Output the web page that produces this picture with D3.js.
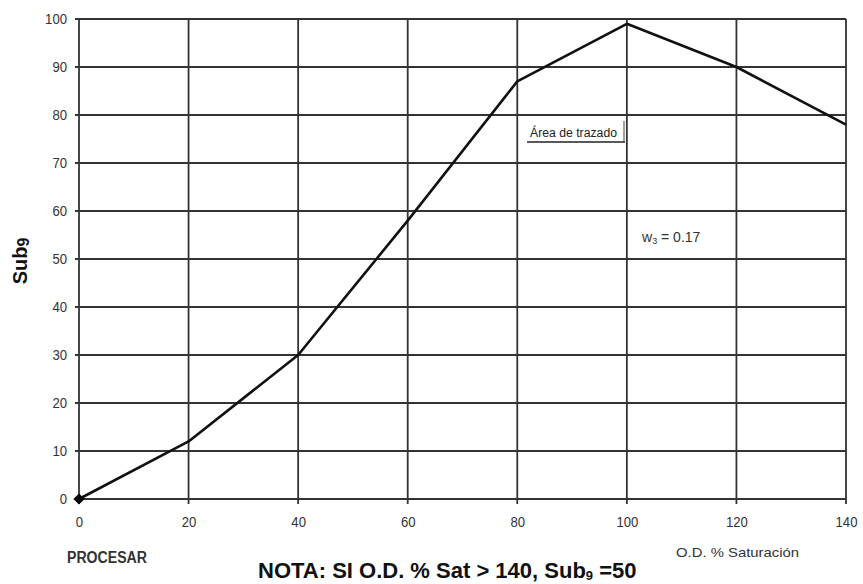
<!DOCTYPE html>
<html><head><meta charset="utf-8">
<script src="https://cdn.jsdelivr.net/npm/d3@7"></script>
<style>body{margin:0;background:#fff}</style>
</head><body><svg id="c" width="863" height="584"></svg>
<script>
const xValues = [0, 20, 40, 60, 80, 100, 120, 140];
const subValues = [0, 12, 30, 58, 87, 99, 90, 78];
const xTicks = [0, 20, 40, 60, 80, 100, 120, 140];
const yTicks = [0, 10, 20, 30, 40, 50, 60, 70, 80, 90, 100];

const svg = d3.select("#c");
const margin = {left: 79, right: 17, top: 19, bottom: 85};
const W = 863, H = 584;
const x = d3.scaleLinear().domain([0, 140]).range([margin.left, W - margin.right]);
const y = d3.scaleLinear().domain([0, 100]).range([H - margin.bottom, margin.top]);
const sans = "'Liberation Sans',Arial,sans-serif";

// grid
const g = svg.append("g");
g.selectAll(".hg").data(yTicks).join("line")
  .attr("x1", x(0) - 4).attr("x2", x(140))
  .attr("y1", d => y(d)).attr("y2", d => y(d))
  .attr("stroke", "#333").attr("stroke-width", 1.8);
g.selectAll(".vg").data(xTicks).join("line")
  .attr("x1", d => x(d)).attr("x2", d => x(d))
  .attr("y1", y(100)).attr("y2", y(0) + 5)
  .attr("stroke", "#333").attr("stroke-width", 1.8);

// axis labels
const yAxis = d3.axisLeft(y).tickValues(yTicks).tickSize(0).tickPadding(12);
const ya = svg.append("g").attr("transform", `translate(${x(0)},0)`).call(yAxis);
ya.select(".domain").remove();
ya.selectAll("text").attr("font-family", sans).attr("font-size", 14).attr("fill", "#333")
  .attr("textLength", d => String(d).length * 7.3).attr("lengthAdjust", "spacingAndGlyphs");
const xAxis = d3.axisBottom(x).tickValues(xTicks).tickSize(0).tickPadding(18);
const xa = svg.append("g").attr("transform", `translate(0,${y(0)})`).call(xAxis);
xa.select(".domain").remove();
xa.selectAll("text").attr("font-family", sans).attr("font-size", 14).attr("fill", "#333")
  .attr("textLength", d => String(d).length * 7.3).attr("lengthAdjust", "spacingAndGlyphs");

// line
const line = d3.line().x((d, i) => x(xValues[i])).y(d => y(d));
svg.append("path").datum(subValues).attr("d", line)
  .attr("fill", "none").attr("stroke", "#111").attr("stroke-width", 2.6)
  .attr("stroke-linejoin", "round");
svg.append("path").attr("d", d3.symbol(d3.symbolDiamond2, 80)())
  .attr("transform", `translate(${x(xValues[0])},${y(subValues[0])})`)
  .attr("fill", "#000");

// texts
const yl = svg.append("text").attr("transform", `translate(27,${(y(0)+y(100))/2 + 2}) rotate(-90)`)
  .attr("text-anchor", "middle").attr("font-family", sans)
  .attr("font-weight", "bold").attr("font-size", 20).attr("fill", "#111");
yl.append("tspan").text("Sub");
yl.append("tspan").attr("font-size", 16).attr("dy", 2).text("9");

svg.append("text").attr("x", 67).attr("y", 563)
  .attr("font-family", sans).attr("font-weight", "bold").attr("font-size", 16).attr("fill", "#333")
  .attr("textLength", 80).attr("lengthAdjust", "spacingAndGlyphs")
  .text("PROCESAR");
const nota = svg.append("text").attr("x", 258).attr("y", 578)
  .attr("font-family", sans).attr("font-weight", "bold").attr("font-size", 22).attr("fill", "#111");
nota.append("tspan").text("NOTA: SI O.D. % Sat > 140, Sub");
nota.append("tspan").attr("font-size", 13).attr("dy", 2).text("9");
nota.append("tspan").attr("dy", -2).text(" =50");
svg.append("text").attr("x", 676).attr("y", 557)
  .attr("font-family", sans).attr("font-size", 13).attr("fill", "#333")
  .attr("textLength", 123).attr("lengthAdjust", "spacingAndGlyphs")
  .text("O.D. % Saturación");

// Área de trazado box
svg.append("text").attr("x", 530).attr("y", 137)
  .attr("font-family", sans).attr("font-size", 12).attr("fill", "#222")
  .attr("textLength", 87).attr("lengthAdjust", "spacingAndGlyphs")
  .text("Área de trazado");
svg.append("line").attr("x1", 527).attr("x2", 625).attr("y1", 142).attr("y2", 142)
  .attr("stroke", "#222").attr("stroke-width", 1.5);
svg.append("line").attr("x1", 624).attr("x2", 624).attr("y1", 121).attr("y2", 142)
  .attr("stroke", "#444").attr("stroke-width", 1);

const w = svg.append("text").attr("x", 642).attr("y", 242)
  .attr("font-family", sans).attr("font-size", 14).attr("fill", "#333");
w.append("tspan").text("w");
w.append("tspan").attr("font-size", 9).attr("dy", 2).text("3");
w.append("tspan").attr("dy", -2).text(" = 0.17");
</script></body></html>
